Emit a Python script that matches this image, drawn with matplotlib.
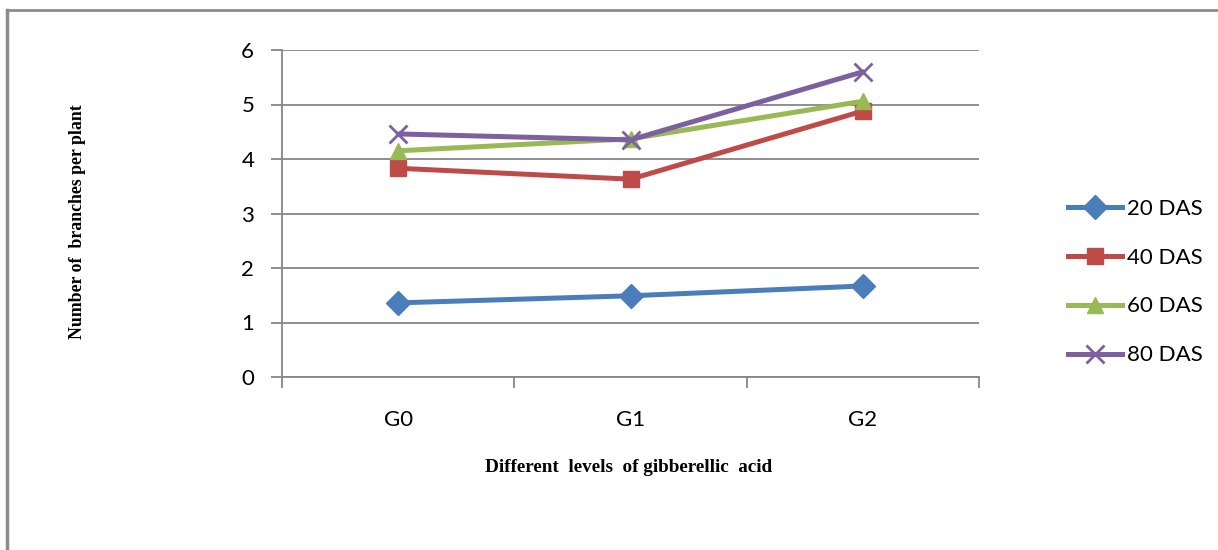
import matplotlib.pyplot as plt
from matplotlib.lines import Line2D

# data
categories = ['G0', 'G1', 'G2']
das_20 = [1.36, 1.49, 1.67]
das_40 = [3.83, 3.63, 4.88]
das_60 = [4.15, 4.37, 5.06]
das_80 = [4.46, 4.35, 5.60]
series_names = ['20 DAS', '40 DAS', '60 DAS', '80 DAS']

colors = ['#4A7EBB', '#BE4B48', '#98B954', '#7D60A0']
markers = ['D', 's', '^', 'x']
msizes = [12, 11.5, 12, 13]
LW = 3.6
FONT = 'Lato'

fig = plt.figure(figsize=(12.18, 5.5), dpi=100)
ax = fig.add_axes([282 / 1218, 1 - 377 / 550, 697 / 1218, 327 / 550])

x = range(len(categories))
for vals, name, c, m, ms in zip([das_20, das_40, das_60, das_80], series_names, colors, markers, msizes):
    ax.plot(x, vals, color=c, lw=LW, marker=m, ms=ms, mec=c, mew=2 if m == 'x' else 1,
            label=name, solid_capstyle='round')

ax.set_xlim(-0.5, 2.5)
ax.set_ylim(0, 6)
ax.set_yticks(range(0, 7))
ax.yaxis.grid(True, color='#868686', lw=1.3)
ax.set_axisbelow(True)

# category labels centred, tick marks between categories
ax.set_xticks([-0.5, 0.5, 1.5, 2.5])
ax.set_xticklabels([])
ax.set_xticks(list(x), minor=True)
ax.set_xticklabels(categories, minor=True, fontsize=16, family=FONT)
ax.tick_params(axis='x', which='major', direction='out', length=8, color='#868686', width=1.3)
ax.tick_params(axis='x', which='minor', length=0, pad=24)
ax.tick_params(axis='y', direction='out', length=8, color='#868686', width=1.3, labelsize=16, pad=12)
for t in ax.get_yticklabels():
    t.set_family(FONT)

for s in ['top', 'right']:
    ax.spines[s].set_visible(False)
for s in ['left', 'bottom']:
    ax.spines[s].set_color('#868686')
    ax.spines[s].set_linewidth(1.3)

fig.text(78 / 1218, 1 - 222 / 550, 'Number of  branches per plant', rotation=90, ha='center', va='center',
         family='Liberation Serif', fontweight='bold', fontsize=12.8)
fig.text(629 / 1218, 1 - 467 / 550, 'Different  levels  of gibberellic  acid', ha='center', va='center',
         family='Liberation Serif', fontweight='bold', fontsize=13.8)

handles = [Line2D([0], [0], color=c, lw=LW, marker=m, ms=ms, mec=c, mew=2 if m == 'x' else 1)
           for c, m, ms in zip(colors, markers, msizes)]
fig.legend(handles, series_names, loc='center left', bbox_to_anchor=(1048 / 1218, 1 - 282 / 550),
           frameon=False, prop={'family': FONT, 'size': 16}, handlelength=2.43,
           handletextpad=0.22, labelspacing=1.3)

# page border lines (top and left)
fig.add_artist(Line2D([7 / 1218, 7 / 1218], [0, 1 - 10 / 550], color='#8c8c8c', lw=2.5, transform=fig.transFigure))
fig.add_artist(Line2D([7 / 1218, 1], [1 - 10 / 550, 1 - 10 / 550], color='#8c8c8c', lw=2, transform=fig.transFigure))

fig.savefig('out.png', dpi=100)
